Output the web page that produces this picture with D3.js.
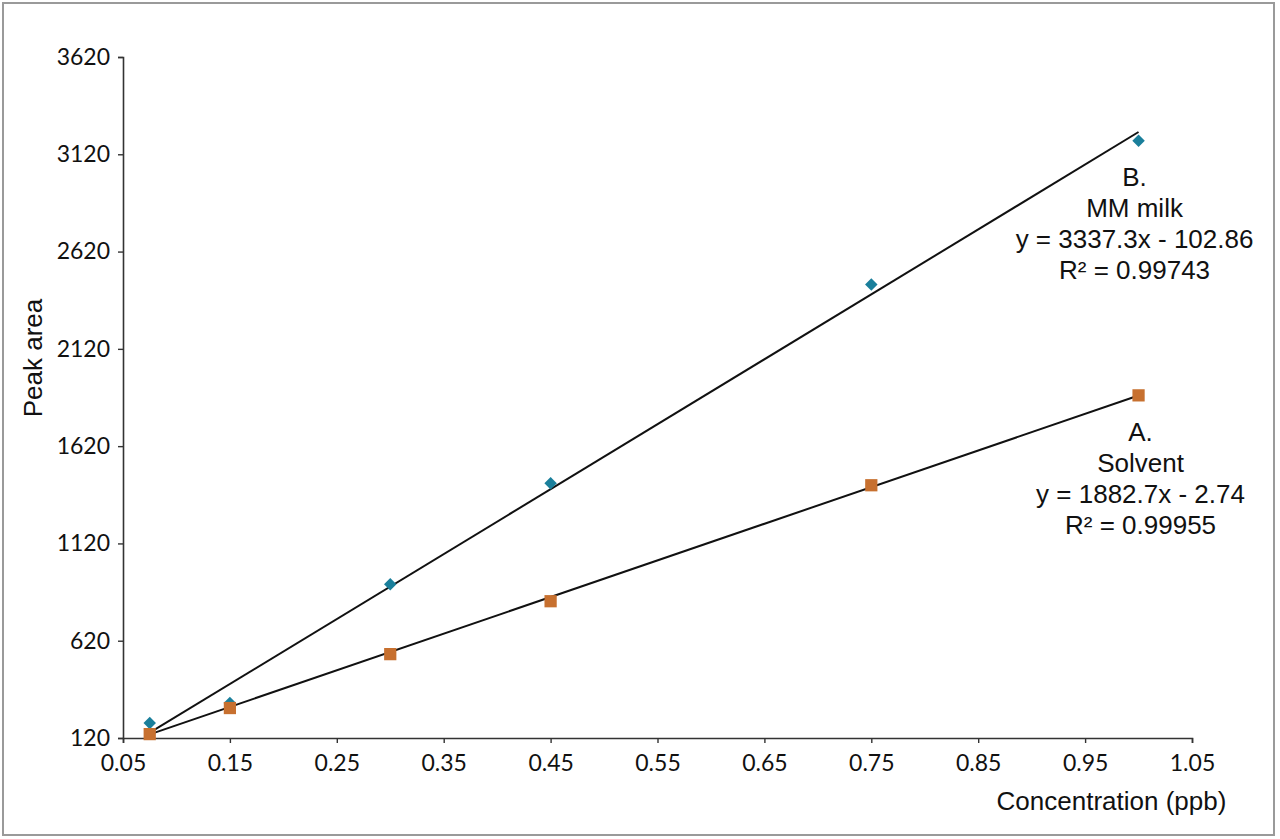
<!doctype html>
<html lang="en">
<head>
  <meta charset="utf-8">
  <title>Calibration curves</title>
  <style>
    html, body { margin: 0; padding: 0; background: #fff; }
    svg { display: block; }
  </style>
</head>
<body>
<svg id="chart" width="1280" height="839"></svg>

<script src="https://d3js.org/d3.v7.min.js"></script>
<script>
// concentrations (ppb)
const conc = [0.075, 0.15, 0.3, 0.45, 0.75, 1.0];

// A. solvent, B. matrix-matched milk
const solvent = [140, 274, 551, 823, 1419, 1881];
const milk = [197, 300, 910, 1429, 2451, 3190];

// trend line coefficients [slope, intercept]
const solventFit = [1882.7, -2.74];
const milkFit = [3337.3, -102.86];

const solventLabel = ['A.', 'Solvent', 'y = 1882.7x - 2.74', 'R\u00b2 = 0.99955'];
const milkLabel = ['B.', 'MM milk', 'y = 3337.3x - 102.86', 'R\u00b2 = 0.99743'];

const xTicks = [0.05, 0.15, 0.25, 0.35, 0.45, 0.55, 0.65, 0.75, 0.85, 0.95, 1.05];
const yTicks = [120, 620, 1120, 1620, 2120, 2620, 3120, 3620];

const chart = d3.select('#chart');
const margin = { top: 57, right: 88, bottom: 101, left: 123 };
const width = 1280 - margin.left - margin.right;
const height = 839 - margin.top - margin.bottom;

// outer frame
chart.append('rect')
  .attr('x', 3).attr('y', 3)
  .attr('width', 1271).attr('height', 832)
  .attr('fill', 'none')
  .attr('stroke', '#9a9a9a')
  .attr('stroke-width', 2);

const g = chart.append('g')
  .attr('transform', `translate(${margin.left} ${margin.top})`);

const x = d3.scaleLinear().domain([0.05, 1.05]).range([0, width]);
const y = d3.scaleLinear().domain([120, 3620]).range([height, 0]);

const tickFont = 'Lato, "Open Sans", sans-serif';
const textFont = '"Liberation Sans", Arial, sans-serif';

const xAxis = g.append('g')
  .attr('transform', `translate(0 ${height})`)
  .call(d3.axisBottom(x).tickValues(xTicks).tickFormat(d3.format('.2f')).tickSizeOuter(0).tickSize(5).tickPadding(12));
const yAxis = g.append('g')
  .call(d3.axisLeft(y).tickValues(yTicks).tickFormat(d3.format('d')).tickSizeOuter(0).tickSize(5).tickPadding(8));

[xAxis, yAxis].forEach(a => {
  a.select('.domain').attr('stroke', '#333').attr('stroke-width', 1.6);
  a.selectAll('.tick line').attr('stroke', '#333').attr('stroke-width', 1.4);
  a.selectAll('.tick text')
    .attr('fill', '#111')
    .style('font-family', tickFont)
    .style('font-size', '23px');
});

// axis titles
g.append('text')
  .attr('transform', `translate(-90 ${358 - margin.top}) rotate(-90)`)
  .attr('text-anchor', 'middle')
  .attr('dy', '0.35em')
  .style('font-family', textFont)
  .style('font-size', '26px')
  .attr('fill', '#111')
  .text('Peak area');

g.append('text')
  .attr('x', x(0.9775) - 3)
  .attr('y', height + 72)
  .attr('text-anchor', 'middle')
  .style('font-family', textFont)
  .style('font-size', '26px')
  .attr('fill', '#111')
  .text('Concentration (ppb)');

// trend lines
const fitLine = d3.line()
  .x(d => x(d[0]))
  .y(d => y(d[1]));

[milkFit, solventFit].forEach(f => {
  const x0 = d3.min(conc), x1 = d3.max(conc);
  g.append('path')
    .datum([[x0, f[0] * x0 + f[1]], [x1, f[0] * x1 + f[1]]])
    .attr('fill', 'none')
    .attr('stroke', '#111')
    .attr('stroke-width', 2)
    .attr('d', fitLine);
});

// markers
const diamond = d3.symbol().type(d3.symbolSquare).size(78);
const square = d3.symbol().type(d3.symbolSquare).size(150);

g.append('g').selectAll('path')
  .data(conc.map((c, i) => [c, milk[i]]))
  .join('path')
  .attr('transform', d => `translate(${x(d[0])} ${y(d[1])}) rotate(45)`)
  .attr('d', diamond)
  .attr('fill', '#1a7f9b');

g.append('g').selectAll('path')
  .data(conc.map((c, i) => [c, solvent[i]]))
  .join('path')
  .attr('transform', d => `translate(${x(d[0])} ${y(d[1])})`)
  .attr('d', square)
  .attr('fill', '#c7702f');

// equation labels
function label(lines, cx, top) {
  g.append('g').selectAll('text')
    .data(lines)
    .join('text')
    .attr('x', cx)
    .attr('y', (d, i) => top + i * 31)
    .attr('text-anchor', 'middle')
    .style('font-family', textFont)
    .style('font-size', '26px')
    .attr('fill', '#111')
    .text(d => d);
}
label(milkLabel, x(1.0) - 4, 129);
label(solventLabel, x(1.0) + 2, 384);
</script>
</body>
</html>
